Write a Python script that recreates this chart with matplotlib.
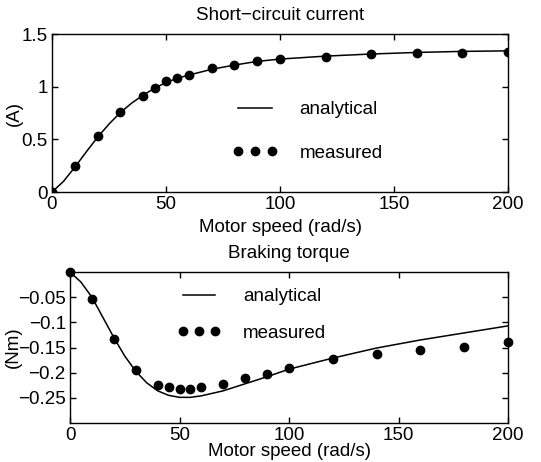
import matplotlib
matplotlib.use("Agg")
import matplotlib.pyplot as plt

plt.rcParams['font.family'] = ['Liberation Sans', 'DejaVu Sans']
plt.rcParams['axes.unicode_minus'] = True

# Short-circuit current
cur_meas_x = [0, 10, 20, 30, 40, 45, 50, 55, 60, 70, 80, 90, 100, 120, 140, 160, 180, 200]
cur_meas_y = [0.0, 0.25, 0.53, 0.755, 0.915, 0.985, 1.05, 1.08, 1.11, 1.175, 1.21, 1.245,
              1.263, 1.285, 1.31, 1.323, 1.323, 1.33]
cur_ana_x = [0, 5, 10, 15, 20, 25, 30, 35, 40, 45, 50, 55, 60, 70, 80, 90, 100, 120, 140, 160, 180, 200]
cur_ana_y = [0.0, 0.1, 0.235, 0.38, 0.52, 0.645, 0.755, 0.845, 0.92, 0.985, 1.04, 1.08, 1.11,
             1.165, 1.205, 1.24, 1.262, 1.29, 1.31, 1.325, 1.335, 1.34]

# Braking torque
trq_meas_x = cur_meas_x
trq_meas_y = [0.0, -0.053, -0.133, -0.194, -0.224, -0.228, -0.233, -0.232, -0.228, -0.222,
              -0.210, -0.202, -0.190, -0.173, -0.163, -0.154, -0.148, -0.140]
trq_ana_x = [0, 5, 10, 15, 20, 25, 30, 35, 40, 45, 50, 55, 60, 70, 80, 90, 100, 120, 140, 160, 180, 200]
trq_ana_y = [0.0, -0.02, -0.05, -0.09, -0.13, -0.167, -0.197, -0.22, -0.236, -0.245, -0.249,
             -0.249, -0.246, -0.236, -0.222, -0.208, -0.193, -0.171, -0.151, -0.135, -0.121, -0.107]

xticks = [0, 50, 100, 150, 200]
cur_yticks = [0, 0.5, 1, 1.5]
cur_yticklabels = ['0', '0.5', '1', '1.5']
trq_yticks = [-0.25, -0.2, -0.15, -0.1, -0.05]
trq_yticklabels = ['\u22120.25', '\u22120.2', '\u22120.15', '\u22120.1', '\u22120.05']

FS = 13.5

fig = plt.figure(figsize=(5.41, 4.62), dpi=100)
ax1 = fig.add_axes([0.0961, 0.5844, 0.843, 0.342])
ax2 = fig.add_axes([0.1294, 0.0844, 0.8096, 0.3268])


def style(ax, xlabelpad):
    for s in ax.spines.values():
        s.set_linewidth(1.0)
        s.set_color('black')
    ax.tick_params(direction='in', top=True, right=True, length=4, width=1,
                   labelsize=FS, colors='black', pad=3)
    ax.set_xlim(0, 200)
    ax.set_xticks(xticks)
    ax.set_xticklabels([str(v) for v in xticks])
    ax.set_xlabel('Motor speed (rad/s)', fontsize=FS, labelpad=xlabelpad)


ax1.plot(cur_ana_x, cur_ana_y, color='black', lw=1.1, label='analytical')
ax1.plot(cur_meas_x, cur_meas_y, 'o', color='black', ms=6, label='measured')
style(ax1, 4)
ax1.set_ylim(0, 1.5)
ax1.set_yticks(cur_yticks)
ax1.set_yticklabels(cur_yticklabels)
ax1.set_ylabel('(A)', fontsize=FS, labelpad=-1)
ax1.set_title('Short\u2212circuit current', fontsize=FS, pad=10)
ax1.legend(loc='center left', bbox_to_anchor=(0.395, 0.383), frameon=False, numpoints=3,
           fontsize=FS, handlelength=2.4, handletextpad=1.2, labelspacing=1.42,
           borderpad=0, borderaxespad=0)

ax2.plot(trq_ana_x, trq_ana_y, color='black', lw=1.1, label='analytical')
ax2.plot(trq_meas_x, trq_meas_y, 'o', color='black', ms=6, label='measured', clip_on=False)
style(ax2, -0.5)
ax2.set_ylim(-0.3, 0)
ax2.set_yticks(trq_yticks)
ax2.set_yticklabels(trq_yticklabels)
ax2.set_ylabel('(Nm)', fontsize=FS, labelpad=-3)
ax2.set_title('Braking torque', fontsize=FS, pad=10)
ax2.legend(loc='center left', bbox_to_anchor=(0.245, 0.715), frameon=False, numpoints=3,
           fontsize=FS, handlelength=2.3, handletextpad=1.2, labelspacing=1.05,
           borderpad=0, borderaxespad=0)

fig.savefig('out.png', dpi=100)
